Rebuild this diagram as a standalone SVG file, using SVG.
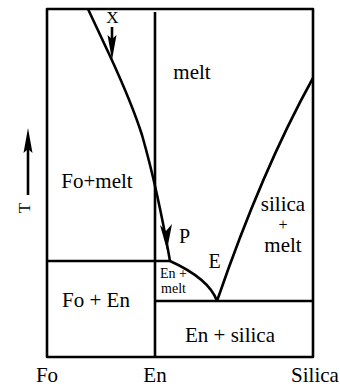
<svg xmlns="http://www.w3.org/2000/svg" width="340" height="387" viewBox="0 0 340 387">
<style>
.ln{fill:none;stroke:#000;stroke-width:2.6;stroke-linejoin:round}
.t{font-family:"Liberation Serif","Times New Roman",serif;fill:#000;text-anchor:middle}
.b{font-size:21px}
.s{font-size:14px}
.ah{fill:#000;stroke:none}
</style>
<rect width="340" height="387" fill="#fff"/>
<g id="connectors">
<rect class="ln" x="47" y="9" width="266" height="348"/>
<path class="ln" d="M155,12 V357"/>
<path class="ln" d="M47,261 H170"/>
<path class="ln" d="M155,301 H313"/>
<path class="ln" d="M88,9 L110,56 C122,82 134,110 142,135 C152,170 162,215 170,261"/>
<path class="ln" d="M170,261 C192,271 211,284 217,301"/>
<path class="ln" d="M313,78 Q262,170 217,301"/>
<path class="ah" d="M167,250 L160,225 L166,231 L172,224 Z"/>
<path class="ln" d="M112,27 V42"/>
<path class="ah" d="M112,60 L107.5,35 L112,39 L116.5,35 Z"/>
<path class="ln" d="M28,195 V148"/>
<path class="ah" d="M28,128 L23.5,153 L28,149 L32.5,153 Z"/>
</g>
<g id="label-x"><text class="t" x="112.5" y="23" font-size="17">X</text></g>
<g id="label-t"><text class="t" font-size="17" transform="translate(30,208) rotate(-90)">T</text></g>
<g id="region-melt"><text class="t b" x="192" y="79">melt</text></g>
<g id="region-fo-melt"><text class="t b" x="97" y="188">Fo+melt</text></g>
<g id="region-silica-melt">
<text class="t b" x="283" y="211">silica</text>
<text class="t" x="283" y="230" font-size="16">+</text>
<text class="t b" x="283" y="252">melt</text>
</g>
<g id="point-p"><text class="t" x="184.5" y="243" font-size="20">P</text></g>
<g id="point-e"><text class="t" x="214.5" y="268" font-size="20">E</text></g>
<g id="region-en-melt">
<text class="t s"><tspan x="173.5" y="278">En +</tspan><tspan x="173.5" y="293">melt</tspan></text>
</g>
<g id="region-fo-en"><text class="t b" x="96" y="307">Fo + En</text></g>
<g id="region-en-silica"><text class="t b" x="230" y="342">En + silica</text></g>
<g id="axis-fo"><text class="t b" x="47" y="382">Fo</text></g>
<g id="axis-en"><text class="t b" x="155" y="382">En</text></g>
<g id="axis-silica"><text class="t b" x="315" y="382">Silica</text></g>
</svg>
